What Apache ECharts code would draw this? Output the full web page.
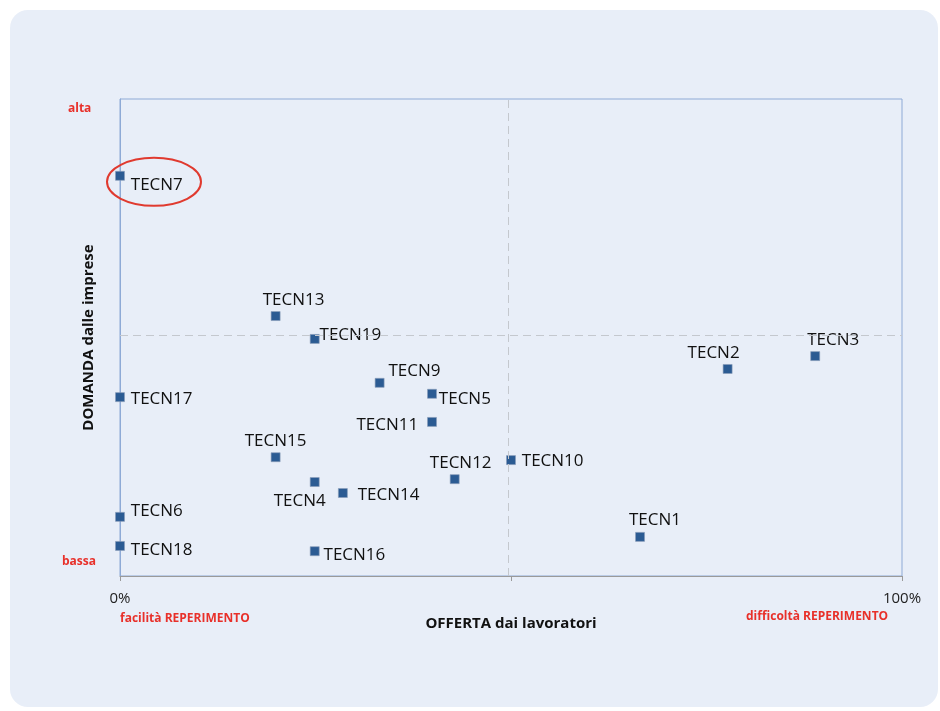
<!DOCTYPE html>
<html>
<head>
	<meta charset="utf-8">
	<script src="https://cdn.jsdelivr.net/npm/echarts@6/dist/echarts.min.js"></script>
	<title>domanda / offerta</title>
	<style>
		html, body { margin: 0; padding: 0; background: #fff; }
		#main { width: 940px; height: 711px; }
	</style>
</head>
<body>
	<div id="main"></div>
	<script type="text/javascript">
		// figure professionali: x = offerta (0-100%), y = domanda (0 bassa - 100 alta)
		var names = ['TECN1','TECN2','TECN3','TECN4','TECN5','TECN6','TECN7','TECN9','TECN10',
			'TECN11','TECN12','TECN13','TECN14','TECN15','TECN16','TECN17','TECN18','TECN19']
		var offerta = [66.5, 77.7, 88.9, 24.9, 39.9, 0, 0, 33.2, 50.0,
			39.9, 42.8, 19.9, 28.5, 19.9, 24.9, 0, 0, 24.9]
		var domanda = [8.2, 43.4, 46.1, 19.7, 38.2, 12.4, 83.9, 40.5, 24.3,
			32.3, 20.3, 54.5, 17.4, 24.9, 5.2, 37.5, 6.3, 49.7]
		var xTickLabels = ['0%', '', '100%']

		var red = '#e8302a'
		var font = '"Open Sans", sans-serif'

		// dove mettere le etichette
		var place = {
			TECN1: ['top', [15, 2]], TECN2: ['top', [-14, 2]], TECN3: ['top', [18, 2]],
			TECN4: ['bottom', [-15, 1]], TECN5: ['right', [-3, 5]], TECN6: ['right', [1, -6]],
			TECN7: ['right', [1, 9]], TECN9: ['right', [-1, -12]], TECN10: ['right', [1, 1]],
			TECN11: ['left', [-4, 3]], TECN12: ['top', [6, 2]], TECN13: ['top', [18, 2]],
			TECN14: ['right', [5, 2]], TECN15: ['top', [0, 2]], TECN16: ['right', [-1, 4]],
			TECN17: ['right', [1, 2]], TECN18: ['right', [1, 4]], TECN19: ['right', [-5, -4]]
		}

		var points = []
		for (var i = 0; i < names.length; i++) {
			var p = place[names[i]]
			points.push({
				name: names[i],
				value: [offerta[i], domanda[i]],
				label: { position: p[0], offset: p[1] }
			})
		}

		var myChart = echarts.init(document.getElementById('main'))
		var option = {
			animation: false,
			textStyle: { fontFamily: font },
			graphic: [
				{ type: 'rect', z: -10, shape: { x: 10, y: 10, width: 928, height: 697, r: 18 },
					style: { fill: '#e8eef8' } },
				{ type: 'text', left: 68, top: 103, style: { text: 'alta', fill: red, font: 'bold 12px ' + font } },
				{ type: 'text', left: 62, top: 556, style: { text: 'bassa', fill: red, font: 'bold 12px ' + font } },
				{ type: 'text', left: 120, top: 613, style: { text: 'facilità REPERIMENTO', fill: red, font: 'bold 12px ' + font } },
				{ type: 'text', left: 746, top: 611, style: { text: 'difficoltà REPERIMENTO', fill: red, font: 'bold 12px ' + font } }
			],
			grid: {
				left: 120, right: 38, top: 99, bottom: 135,
				show: true, borderColor: '#8eaad6', borderWidth: 1, backgroundColor: 'transparent'
			},
			xAxis: {
				type: 'value', min: 0, max: 100, interval: 50,
				name: 'OFFERTA dai lavoratori', nameLocation: 'middle', nameGap: 40,
				nameTextStyle: { color: '#111', fontWeight: 'bold', fontSize: 15 },
				axisLine: { lineStyle: { color: '#9a9a9a' } },
				axisTick: { show: true, length: 5, lineStyle: { color: '#9a9a9a' } },
				axisLabel: {
					margin: 15, color: '#222', fontSize: 15,
					formatter: function (v) { return xTickLabels[v / 50] }
				},
				splitLine: { show: false }
			},
			yAxis: {
				type: 'value', min: 0, max: 100,
				name: 'DOMANDA dalle imprese', nameLocation: 'middle', nameGap: 24, nameRotate: 90,
				nameTextStyle: { color: '#111', fontWeight: 'bold', fontSize: 15 },
				axisLine: { show: true, lineStyle: { color: '#8eaad6' } },
				axisTick: { show: false },
				axisLabel: { show: false },
				splitLine: { show: false }
			},
			series: [{
				type: 'scatter',
				symbol: 'rect',
				symbolSize: 9,
				itemStyle: { color: '#2b5b93', opacity: 1, borderColor: '#8a9cb8', borderWidth: 0.6 },
				label: { show: true, formatter: '{b}', color: '#111', fontSize: 17, distance: 5 },
				data: points,
				markLine: {
					silent: true, symbol: 'none',
					label: { show: false },
					lineStyle: { type: [8, 5], color: '#c4c8ce', width: 1 },
					data: [{ xAxis: 49.7 }, { yAxis: 50.5 }]
				}
			}]
		}
		myChart.setOption(option)

		// cerchio rosso attorno a TECN7
		var k = names.indexOf('TECN7')
		var c = myChart.convertToPixel({ seriesIndex: 0 }, [offerta[k], domanda[k]])
		myChart.setOption({
			graphic: option.graphic.concat([{
				type: 'ellipse', z: 10,
				shape: { cx: c[0] + 34, cy: c[1] + 6, rx: 47, ry: 24 },
				style: { fill: 'none', stroke: '#e03a2f', lineWidth: 2 }
			}])
		})
	</script>
</body>
</html>
